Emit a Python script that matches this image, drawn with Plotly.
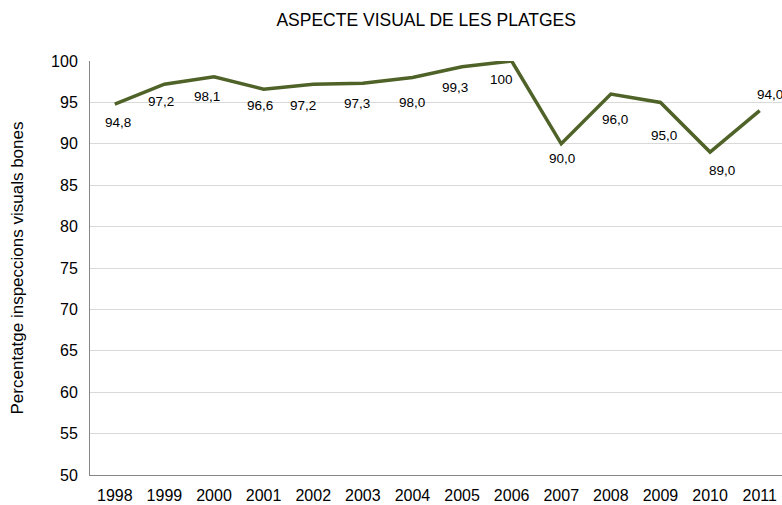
import plotly.graph_objects as go

years = [1998, 1999, 2000, 2001, 2002, 2003, 2004, 2005, 2006, 2007, 2008, 2009, 2010, 2011]
values = [94.8, 97.2, 98.1, 96.6, 97.2, 97.3, 98.0, 99.3, 100, 90.0, 96.0, 95.0, 89.0, 94.0]
labels = ["94,8", "97,2", "98,1", "96,6", "97,2", "97,3", "98,0", "99,3", "100",
          "90,0", "96,0", "95,0", "89,0", "94,0"]
# label offsets in pixels (dx, dy down)
offsets = [(3, 18), (-3, 17), (-7, 20), (-4, 16), (-10, 21), (-6, 20), (0, 25), (-7, 21),
           (-10, 18), (1, 15), (4, 25), (4, 33), (12, 18), (10, -16)]

FONT = "Liberation Sans, Arial"

fig = go.Figure()
fig.add_trace(go.Scatter(
    x=years, y=values, mode="lines",
    line=dict(color="#4F6228", width=3.5),
    hoverinfo="skip", showlegend=False,
))

for x, y, t, (dx, dy) in zip(years, values, labels, offsets):
    fig.add_annotation(x=x, y=y, text=t, showarrow=False, xshift=dx, yshift=-dy,
                       font=dict(family=FONT, size=13.5, color="#000"))

fig.update_layout(
    width=782, height=505,
    margin=dict(l=90, r=0, t=61, b=30),
    paper_bgcolor="white", plot_bgcolor="white",
    title=dict(text="ASPECTE VISUAL DE LES PLATGES", x=0.545, xanchor="center",
               y=0.96, yanchor="middle",
               font=dict(family=FONT, size=17.5, color="#000")),
    font=dict(family=FONT, size=16, color="#000"),
)
fig.update_xaxes(
    range=[1997.5, 2011.45], tickvals=years, ticktext=[str(y) for y in years],
    showgrid=False, showline=True, linecolor="#868686", linewidth=1,
    ticks="", ticklabelstandoff=6, zeroline=False, automargin=False,
    tickfont=dict(size=16),
)
fig.update_yaxes(
    range=[50, 100], dtick=5, showgrid=True, gridcolor="#d9d9d9", gridwidth=1,
    showline=True, linecolor="#868686", linewidth=1, ticks="", zeroline=False,
    ticklabelstandoff=8, tickfont=dict(size=16), automargin=False,
    title=dict(text="Percentatge inspeccions visuals bones", font=dict(size=17), standoff=23),
)

fig.write_html("out.html", config={"displayModeBar": False},
               post_script="document.body.style.margin='0';")
